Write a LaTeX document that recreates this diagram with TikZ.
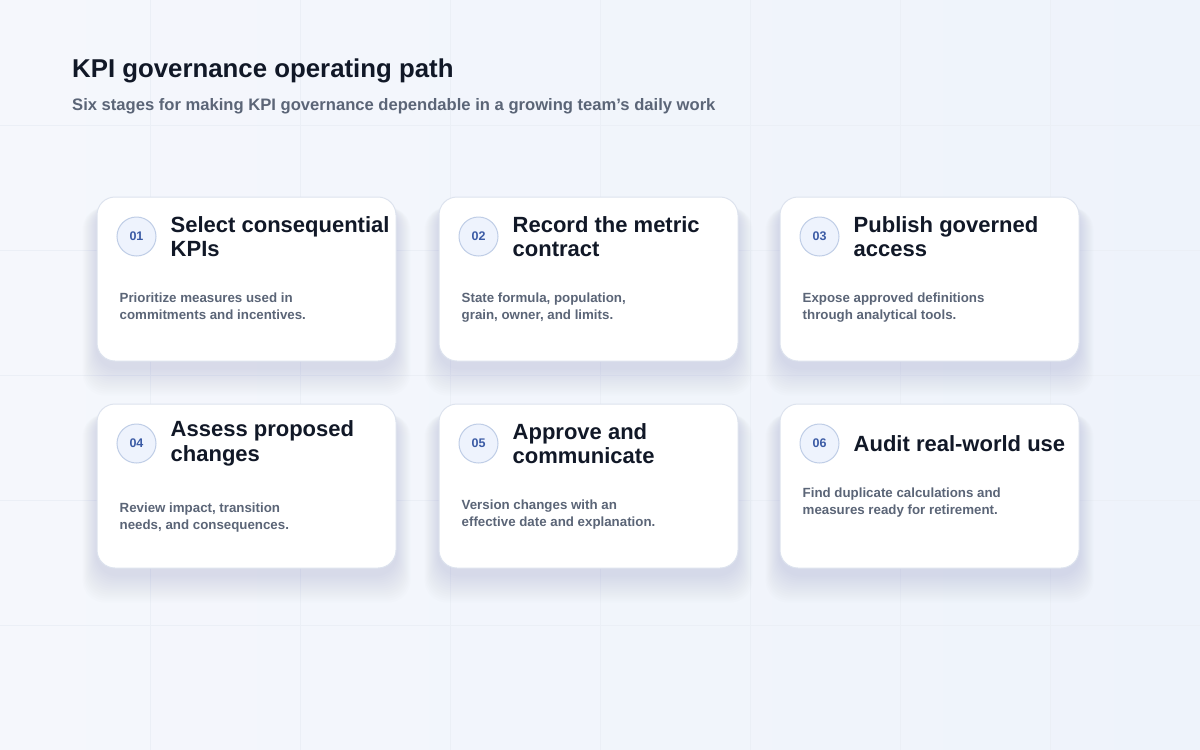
\documentclass[tikz,border=0pt]{standalone}
\usepackage{fontspec}
\setmainfont{Liberation Sans}
\usetikzlibrary{positioning,calc,backgrounds}

\definecolor{pagebg}{HTML}{F5F7FC}
\definecolor{pagebgb}{HTML}{EEF3FB}
\definecolor{gridline}{HTML}{EBEFF6}
\definecolor{cardline}{HTML}{DDE3EE}
\definecolor{shadowc}{HTML}{6B7A9E}
\definecolor{headink}{HTML}{111827}
\definecolor{subink}{HTML}{5B6577}
\definecolor{badgefill}{HTML}{EEF3FD}
\definecolor{badgeline}{HTML}{BFCDE6}
\definecolor{badgeink}{HTML}{3B5BA5}

\tikzset{
  card/.style={rectangle, rounded corners=18pt, fill=white, draw=cardline, line width=1pt,
    minimum width=299pt, minimum height=164pt},
  badge/.style={circle, minimum size=39pt, inner sep=0pt, fill=badgefill, draw=badgeline, line width=1pt,
    text=badgeink, font=\fontsize{12.5}{14}\selectfont\bfseries},
  stitle/.style={inner sep=0pt, align=left, anchor=west, text=headink,
    font=\fontsize{22}{24.5}\selectfont\bfseries},
  sbody/.style={inner sep=0pt, align=left, anchor=north west, text=subink,
    font=\fontsize{13.3}{17}\selectfont\bfseries},
}

\begin{document}
\begin{tikzpicture}[x=1pt,y=-1pt]
\useasboundingbox (0,0) rectangle (1200,750);

\node[anchor=base west, inner sep=0pt, text=headink, font=\fontsize{25.8}{30}\selectfont\bfseries] (head) at (72,77) {KPI governance operating path};
\node[anchor=base west, inner sep=0pt, text=subink, font=\fontsize{16.6}{20}\selectfont\bfseries] (subhead) at (72,110) {Six stages for making KPI governance dependable in a growing team’s daily work};

% row 1
\node[card] (c1) at (246.5,279) {};
\node[badge] (b1) at ($(c1.north west)+(40,40)$) {01};
\node[stitle, right=14pt of b1] (t1) {Select consequential\\KPIs};
\node[sbody] (d1) at ($(t1.south -| c1.west)+(23,36)$) {Prioritize measures used in\\commitments and incentives.};

\node[card] (c2) at (588.5,279) {};
\node[badge] (b2) at ($(c2.north west)+(40,40)$) {02};
\node[stitle, right=14pt of b2] (t2) {Record the metric\\contract};
\node[sbody] (d2) at ($(t2.south -| c2.west)+(23,36)$) {State formula, population,\\grain, owner, and limits.};

\node[card] (c3) at (929.5,279) {};
\node[badge] (b3) at ($(c3.north west)+(40,40)$) {03};
\node[stitle, right=14pt of b3] (t3) {Publish governed\\access};
\node[sbody] (d3) at ($(t3.south -| c3.west)+(23,36)$) {Expose approved definitions\\through analytical tools.};

% row 2
\node[card] (c4) at (246.5,486) {};
\node[badge] (b4) at ($(c4.north west)+(40,40)$) {04};
\node[stitle, right=14pt of b4] (t4) {Assess proposed\\changes};
\node[sbody] (d4) at ($(t4.south -| c4.west)+(23,36)$) {Review impact, transition\\needs, and consequences.};

\node[card] (c5) at (588.5,486) {};
\node[badge] (b5) at ($(c5.north west)+(40,40)$) {05};
\node[stitle, right=14pt of b5] (t5) {Approve and\\communicate};
\node[sbody] (d5) at ($(t5.south -| c5.west)+(23,36)$) {Version changes with an\\effective date and explanation.};

\node[card] (c6) at (929.5,486) {};
\node[badge] (b6) at ($(c6.north west)+(40,40)$) {06};
\node[stitle, right=14pt of b6] (t6) {Audit real-world use};
\node[sbody] (d6) at ($(t6.south -| c6.west)+(23,36)$) {Find duplicate calculations and\\measures ready for retirement.};

\begin{scope}[on background layer]
\shade[left color=pagebg, right color=pagebgb] (0,0) rectangle (1200,750);
% faint grid
\foreach \gx in {150,300,...,1050} \draw[gridline, line width=0.8pt] (\gx,0) -- (\gx,750);
\foreach \gy in {125,250,...,625} \draw[gridline, line width=0.8pt] (0,\gy) -- (1200,\gy);
% soft card shadows
\foreach \c in {c1,c2,c3,c4,c5,c6}
  \foreach \s in {1,...,14}
    \fill[shadowc, opacity=0.011, rounded corners=22pt]
      ($(\c.north west)+(-1.0*\s,8+0.2*\s)$) rectangle ($(\c.south east)+(1.0*\s,6+2.0*\s)$);
\end{scope}
\end{tikzpicture}
\end{document}
